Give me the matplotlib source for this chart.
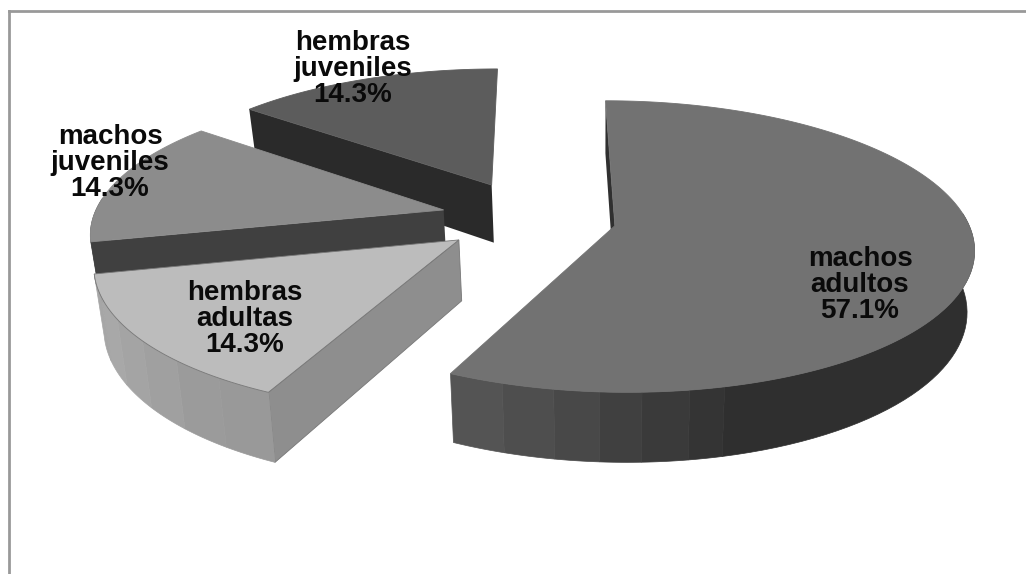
import numpy as np
import matplotlib
matplotlib.use("Agg")
import matplotlib.pyplot as plt
from matplotlib.patches import Polygon

# data
labels = ["machos\nadultos", "hembras\nadultas", "machos\njuveniles", "hembras\njuveniles"]
shares = [57.1, 14.3, 14.3, 14.3]

# styles, same order as the data
top_colors = ["#727272", "#bcbcbc", "#8c8c8c", "#5c5c5c"]
face_colors = ["#303030", "#8e8e8e", "#404040", "#2a2a2a"]
rim_bands = [
    ["#545454", "#4e4e4e", "#484848", "#404040", "#3a3a3a", "#343434", "#2f2f2f"],
    ["#999999", "#9b9b9b", "#a0a0a0", "#a4a4a4", "#a8a8a8", "#a6a6a6"],
    ["#404040"],
    ["#2a2a2a"],
]
# where the shading of the big slice changes, degrees back from its open end
macho_steps = [7.9, 15.3, 21.7, 27.6, 34.3, 39.3]
edge_colors = ["none", "#777777", "none", "none"]
explode = [(0.205, -0.005), (-0.219, -0.10), (-0.268, 0.104), (-0.138, 0.283)]
radius = [0.97, 0.97, 0.967, 0.975]
label_pos = [(860, 285), (245, 319), (110, 163), (353, 69)]

# projection of the pie plane on the picture
CX, CY = 540, 225
A, B, K = 365, 147, 0.147
DEPTH = 60
VX, VS = 600, 0.98


def project(u, v):
    w = 1 + K * v
    return CX + A * u / w, CY - B * v / w


def project_low(u, v):
    x, y = project(u, v)
    return VX + (x - VX) * VS, y + DEPTH / (1 + K * v)


def rim_point(ang, off, r):
    rad = np.radians(ang)
    return off[0] + r * np.sin(rad), off[1] + r * np.cos(rad)


fig = plt.figure(figsize=(10.26, 5.74), dpi=100)
ax = fig.add_axes([0, 0, 1, 1])
ax.set_xlim(0, 1026)
ax.set_ylim(574, 0)
ax.axis("off")

# frame, only top and left are in the picture
ax.plot([9, 1026], [11, 11], color="#999999", lw=2)
ax.plot([9, 9], [11, 574], color="#999999", lw=2)

ends = np.cumsum(shares) / sum(shares) * 360
starts = np.r_[0, ends[:-1]]

# back slices first, macho adulto last
for i in [3, 2, 1, 0]:
    a0, a1 = starts[i], ends[i]
    off = explode[i]
    r = radius[i]

    # radial side at the start angle
    p = rim_point(a0, off, r)
    pts = [project(*off), project(*p), project_low(*p), project_low(*off)]
    ax.add_patch(Polygon(pts, fc=face_colors[i], ec=edge_colors[i], lw=0.6))

    # outer side, in shaded bands, only where it faces the viewer
    vis0, vis1 = max(a0, 85), min(a1, 275)
    if vis1 > vis0:
        bands = rim_bands[i]
        if i == 0:
            # this one runs from the right edge to the open end
            stops = [vis0] + [a1 - s for s in macho_steps[::-1]] + [a1]
            bands = bands[::-1]
        else:
            stops = list(np.linspace(vis0, vis1, len(bands) + 1))
        for c, s0, s1 in zip(bands, stops[:-1], stops[1:]):
            ang = np.linspace(s0, s1, 40)
            rim = [rim_point(t, off, r) for t in ang]
            pts = [project(*q) for q in rim] + [project_low(*q) for q in rim[::-1]]
            ax.add_patch(Polygon(pts, fc=c, ec=c, lw=0.5))

    # top surface
    ang = np.linspace(a0, a1, 200)
    pts = [project(*off)] + [project(*rim_point(t, off, r)) for t in ang]
    ec = edge_colors[i] if edge_colors[i] != "none" else top_colors[i]
    ax.add_patch(Polygon(pts, fc=top_colors[i], ec=ec, lw=0.6))

for lab, share, pos in zip(labels, shares, label_pos):
    ax.text(pos[0], pos[1], f"{lab}\n{share:.1f}%", ha="center", va="center", color="#0a0a0a",
            family="Liberation Sans", weight="bold", fontsize=20, linespacing=0.98)

fig.savefig("out.png", dpi=100)
